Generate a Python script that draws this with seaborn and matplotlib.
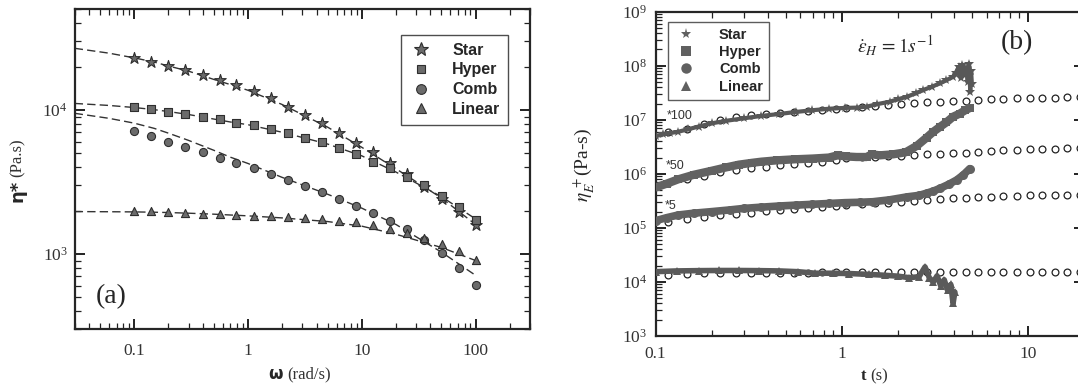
import numpy as np
import matplotlib
matplotlib.use("Agg")
import matplotlib.pyplot as plt
import matplotlib.ticker as mticker
from matplotlib.lines import Line2D
import seaborn as sns

# ---------------- (a) complex viscosity vs frequency ----------------
omega = [0.1, 0.141, 0.2, 0.282, 0.4, 0.562, 0.79, 1.12, 1.58, 2.24, 3.16,
         4.47, 6.31, 8.91, 12.6, 17.8, 25.1, 35.5, 50.1, 70.8, 100]
eta_star = [23070, 21680, 20240, 18970, 17500, 16150, 14830, 13550, 12050, 10550, 9230,
            8080, 6960, 5930, 5080, 4260, 3590, 2940, 2400, 1970, 1590]
eta_hyper = [10430, 10160, 9740, 9330, 8990, 8610, 8170, 7830, 7420, 6890, 6430,
             5960, 5420, 4950, 4380, 3940, 3450, 3020, 2530, 2110, 1720]
eta_comb = [7180, 6590, 6020, 5500, 5080, 4670, 4310, 3940, 3590, 3270, 2970,
            2680, 2410, 2170, 1940, 1700, 1480, 1260, 1020, 803, 609]
eta_linear = [2000, 1980, 1950, 1930, 1910, 1890, 1870, 1850, 1830, 1800, 1770,
              1740, 1700, 1660, 1580, 1480, 1410, 1290, 1170, 1050, 909]

# dashed model curves
omega_fit = [0.03, 0.06, 0.1, 0.15, 0.2, 0.3, 0.5, 0.7, 1, 2, 5, 10, 20, 50, 100]
fit_star = [26800, 24800, 23000, 21500, 20200, 18600, 16300, 15000, 13700, 10900, 7600,
            5500, 3900, 2450, 1600]
fit_hyper = [11100, 10750, 10400, 10050, 9750, 9300, 8650, 8250, 7900, 7000, 5800,
             4800, 3700, 2500, 1750]
fit_comb = [9480, 8750, 8100, 7450, 6900, 6150, 5250, 4700, 4250, 3400, 2600,
            2080, 1600, 1030, 710]
fit_linear = [1970, 1965, 1960, 1950, 1940, 1920, 1890, 1865, 1840, 1780, 1680,
              1560, 1370, 1110, 900]

# ---------------- (b) extensional viscosity growth ----------------
t_star = [0.1, 0.11, 0.12, 0.132, 0.15, 0.17, 0.2, 0.24, 0.3, 0.37, 0.46, 0.57, 0.69,
          0.85, 1.04, 1.2, 1.36, 1.55, 1.81, 2.0, 2.24, 2.5, 2.74, 3.05, 3.37, 3.65,
          3.96, 4.1, 4.25, 4.35, 4.45, 4.55, 4.65, 4.75, 4.82, 4.9, 4.95, 5.0]
e_star = [5.0e6, 5.4e6, 5.7e6, 6.0e6, 6.7e6, 7.5e6, 8.6e6, 9.6e6, 1.07e7, 1.18e7, 1.28e7,
          1.4e7, 1.5e7, 1.6e7, 1.66e7, 1.68e7, 1.75e7, 1.95e7, 2.16e7, 2.4e7, 2.67e7,
          3.1e7, 3.56e7, 4.1e7, 4.73e7, 5.4e7, 6.3e7, 7.5e7, 9.5e7, 6.0e7, 1.05e8,
          7.0e7, 9.0e7, 5.0e7, 1.1e8, 3.3e7, 8.0e7, 4.5e7]
t_hyper = [0.1, 0.115, 0.132, 0.16, 0.2, 0.24, 0.28, 0.33, 0.37, 0.45, 0.56, 0.7, 0.85,
           0.95, 1.05, 1.2, 1.36, 1.45, 1.6, 1.89, 2.2, 2.53, 2.86, 3.1, 3.37, 3.65,
           3.96, 4.3, 4.6, 4.87]
e_hyper = [5.6e5, 6.6e5, 7.9e5, 9.6e5, 1.14e6, 1.32e6, 1.48e6, 1.6e6, 1.68e6, 1.78e6,
           1.86e6, 1.92e6, 2.0e6, 2.2e6, 2.1e6, 2.05e6, 2.05e6, 2.3e6, 2.2e6, 2.3e6,
           2.5e6, 3.3e6, 4.7e6, 6.0e6, 7.4e6, 9.0e6, 1.14e7, 1.3e7, 1.5e7, 1.65e7]
t_comb = [0.1, 0.115, 0.132, 0.16, 0.2, 0.25, 0.3, 0.37, 0.46, 0.57, 0.69, 0.85, 1.04,
          1.25, 1.47, 1.8, 2.24, 2.6, 2.86, 3.1, 3.37, 3.75, 4.14, 4.5, 4.87]
e_comb = [1.36e5, 1.55e5, 1.73e5, 1.87e5, 2.0e5, 2.15e5, 2.3e5, 2.42e5, 2.54e5, 2.64e5,
          2.73e5, 2.83e5, 2.93e5, 2.98e5, 3.05e5, 3.3e5, 3.75e5, 4.0e5, 4.4e5, 4.8e5,
          5.4e5, 6.4e5, 7.7e5, 9.6e5, 1.25e6]
t_linear = [0.1, 0.13, 0.17, 0.22, 0.28, 0.36, 0.46, 0.58, 0.72, 0.9, 1.1, 1.4, 1.7,
            2.0, 2.3, 2.6, 2.8, 2.95, 3.1, 3.25, 3.4, 3.55, 3.7, 3.85, 3.96, 4.05]
e_linear = [1.55e4, 1.6e4, 1.62e4, 1.63e4, 1.63e4, 1.62e4, 1.6e4, 1.55e4, 1.45e4, 1.45e4,
            1.43e4, 1.38e4, 1.33e4, 1.28e4, 1.2e4, 1.25e4, 1.9e4, 1.2e4, 1.0e4, 1.3e4,
            8.5e3, 1.1e4, 7.0e3, 9.0e3, 4.0e3, 6.5e3]

# model predictions (open circles)
t_model = [0.117, 0.148, 0.183, 0.222, 0.269, 0.325, 0.39, 0.466, 0.556, 0.661, 0.786,
           0.927, 1.06, 1.28, 1.51, 1.78, 2.08, 2.44, 2.86, 3.37, 3.94, 4.63, 5.41,
           6.32, 7.36, 8.69, 10.2, 11.9, 13.9, 16.3, 19.0]
m_star = [5.9e6, 6.8e6, 8.2e6, 9.8e6, 1.12e7, 1.22e7, 1.29e7, 1.35e7, 1.41e7, 1.47e7,
          1.53e7, 1.58e7, 1.63e7, 1.72e7, 1.8e7, 1.88e7, 1.96e7, 2.03e7, 2.1e7, 2.16e7,
          2.22e7, 2.27e7, 2.32e7, 2.38e7, 2.44e7, 2.48e7, 2.52e7, 2.55e7, 2.57e7, 2.59e7, 2.6e7]
m_hyper = [6.7e5, 8.0e5, 9.3e5, 1.1e6, 1.2e6, 1.28e6, 1.36e6, 1.44e6, 1.52e6, 1.61e6,
           1.69e6, 1.78e6, 1.94e6, 2.02e6, 2.08e6, 2.12e6, 2.16e6, 2.22e6, 2.3e6, 2.36e6,
           2.42e6, 2.48e6, 2.56e6, 2.64e6, 2.72e6, 2.78e6, 2.84e6, 2.88e6, 2.92e6, 2.95e6, 2.97e6]
m_comb = [1.3e5, 1.44e5, 1.61e5, 1.73e5, 1.81e5, 1.91e5, 2.03e5, 2.14e5, 2.24e5, 2.3e5,
          2.4e5, 2.54e5, 2.65e5, 2.74e5, 2.85e5, 2.93e5, 3.0e5, 3.15e5, 3.28e5, 3.43e5,
          3.53e5, 3.6e5, 3.68e5, 3.78e5, 3.86e5, 3.92e5, 3.98e5, 4.02e5, 4.05e5, 4.08e5, 4.1e5]
m_linear = [1.35e4, 1.42e4, 1.45e4, 1.46e4, 1.47e4, 1.47e4, 1.48e4, 1.48e4, 1.49e4, 1.49e4,
            1.5e4, 1.5e4, 1.51e4, 1.51e4, 1.52e4, 1.52e4, 1.52e4, 1.53e4, 1.53e4, 1.53e4,
            1.54e4, 1.54e4, 1.54e4, 1.54e4, 1.55e4, 1.55e4, 1.55e4, 1.55e4, 1.55e4, 1.55e4, 1.55e4]

labels = ["Star", "Hyper", "Comb", "Linear"]
shift_labels = ["*100", "*50", "*5"]

sns.set_style("ticks")
plt.rcParams["font.family"] = ["Liberation Serif", "DejaVu Serif"]
plt.rcParams["mathtext.fontset"] = "stix"
plt.rcParams["axes.linewidth"] = 1.6

W, H = 1078, 388
fig = plt.figure(figsize=(W / 100, H / 100), dpi=100)
ax1 = fig.add_axes([74.7 / W, 1 - 329.3 / H, (530 - 74.7) / W, (329.3 - 9.3) / H])
ax2 = fig.add_axes([655.6 / W, 1 - 336 / H, (1084 - 655.6) / W, (336 - 11.7) / H])

grey = "#6b6b6b"
edge = "#2e2e2e"
for ax in (ax1, ax2):
    ax.set_xscale("log")
    ax.set_yscale("log")

# ---- panel a
for yfit in (fit_star, fit_hyper, fit_comb, fit_linear):
    sns.lineplot(x=omega_fit, y=yfit, ax=ax1, color="#333333", linewidth=1.0,
                 dashes=False, linestyle=(0, (6, 3)), zorder=2)
marks = [("*", 75, eta_star), ("s", 26, eta_hyper), ("o", 34, eta_comb), ("^", 34, eta_linear)]
for (mk, sz, yv) in marks:
    sns.scatterplot(x=omega, y=yv, ax=ax1, marker=mk, s=sz, color=grey,
                    edgecolor=edge, linewidth=0.8, zorder=3)

ax1.set_xlim(0.03, 300)
ax1.set_ylim(300, 5e4)

h1 = [Line2D([], [], ls="none", marker=m, ms=s, color=grey, mec=edge, mew=0.8)
      for m, s in zip(["*", "s", "o", "^"], [10, 6, 7, 7])]
leg1 = ax1.legend(h1, labels, loc="upper right", bbox_to_anchor=(0.97, 0.946),
                  prop={"family": "Liberation Sans", "weight": "bold", "size": 11.5},
                  frameon=True, fancybox=False, edgecolor="#222222", labelspacing=0.3,
                  handletextpad=1.2, borderpad=0.5, handlelength=1.5)
leg1.get_frame().set_linewidth(1.0)
fig.text(96 / W, 1 - 297 / H, "(a)", fontsize=20, ha="left", va="center")

# ---- panel b
model_sets = [m_star, m_hyper, m_comb, m_linear]
for yv in model_sets:
    sns.scatterplot(x=t_model, y=yv, ax=ax2, marker="o", s=24, color="white",
                    edgecolor="#222222", linewidth=0.9, zorder=2, clip_on=False)

exp_sets = [(t_star, e_star, "*", 7, 3.0, "#585858"),
            (t_hyper, e_hyper, "s", 6, 6.0, "#626262"),
            (t_comb, e_comb, "o", 6.5, 5.5, "#626262"),
            (t_linear, e_linear, "^", 6, 4.0, "#5a5a5a")]
for (tx, yv, mk, ms, lw, c) in exp_sets:
    sns.lineplot(x=tx, y=yv, ax=ax2, color=c, linewidth=lw, marker=mk, markersize=ms,
                 markeredgewidth=0, sort=False, zorder=3)

ax2.set_xlim(0.1, 20)
ax2.set_ylim(1e3, 1e9)

h2 = [Line2D([], [], ls="none", marker=m, ms=s, color="#606060", mew=0)
      for m, s in zip(["*", "s", "o", "^"], [8, 7, 7.5, 7.5])]
leg2 = ax2.legend(h2, labels, loc="upper left", bbox_to_anchor=(0.012, 0.99),
                  prop={"family": "Liberation Sans", "weight": "bold", "size": 10.5},
                  frameon=True, fancybox=False, edgecolor="#333333", labelspacing=0.22,
                  handletextpad=1.4, borderpad=0.4, handlelength=1.7)
leg2.get_frame().set_linewidth(1.0)

fig.text(895 / W, 1 - 46 / H, r"$\dot{\varepsilon}_H\,=1s^{-1}$", fontsize=14,
         ha="center", va="center")
fig.text(1017 / W, 1 - 43 / H, "(b)", fontsize=20, ha="center", va="center")
for txt, (px, py) in zip(shift_labels, [(680, 116), (675, 166), (671, 206)]):
    fig.text(px / W, 1 - py / H, txt, fontsize=9, family="Liberation Sans",
             color="#333333", ha="center", va="center")

# ---- ticks
fmt = mticker.FuncFormatter(lambda v, p: "%g" % v)
for ax in (ax1, ax2):
    ax.xaxis.set_major_locator(mticker.LogLocator(base=10, numticks=20))
    ax.xaxis.set_minor_locator(mticker.LogLocator(base=10, subs=np.arange(2, 10), numticks=20))
    ax.yaxis.set_major_locator(mticker.LogLocator(base=10, numticks=20))
    ax.yaxis.set_minor_locator(mticker.LogLocator(base=10, subs=np.arange(2, 10), numticks=20))
    ax.xaxis.set_major_formatter(fmt)
    ax.xaxis.set_minor_formatter(mticker.NullFormatter())
    ax.yaxis.set_minor_formatter(mticker.NullFormatter())
    ax.tick_params(which="both", direction="in", top=True, right=True,
                   colors="#222222", labelsize=12.5, labelcolor="#333333")
    ax.tick_params(which="major", length=7, width=1.4)
    ax.tick_params(which="minor", length=4, width=0.9)
    ax.set_xlabel("")
    ax.set_ylabel("")
ax1.tick_params(axis="x", pad=10)
ax1.tick_params(axis="y", pad=5)
ax2.tick_params(axis="x", pad=7)
ax2.tick_params(axis="y", pad=6)

# ---- axis labels (bold symbol + plain units)
fig.text(18 / W, 1 - 180 / H, "η*", rotation=90, family="DejaVu Sans", weight="bold",
         fontsize=13, ha="center", va="top")
fig.text(18 / W, 1 - 177 / H, "(Pa.s)", rotation=90, fontsize=12, ha="center", va="bottom",
         color="#333333")
fig.text(283 / W, 14 / H, "ω", family="DejaVu Sans", weight="bold", fontsize=12,
         ha="right", va="center")
fig.text(287 / W, 14 / H, "(rad/s)", fontsize=12, ha="left", va="center", color="#333333")
fig.text(583 / W, 1 - 165 / H, r"$\eta_E^{\,+}$(Pa-s)", rotation=90, fontsize=14,
         ha="center", va="center")
fig.text(866 / W, 12 / H, "t", weight="bold", fontsize=12, ha="right", va="center")
fig.text(870 / W, 12 / H, "(s)", fontsize=12, ha="left", va="center", color="#333333")

fig.savefig("out.png", dpi=100)
